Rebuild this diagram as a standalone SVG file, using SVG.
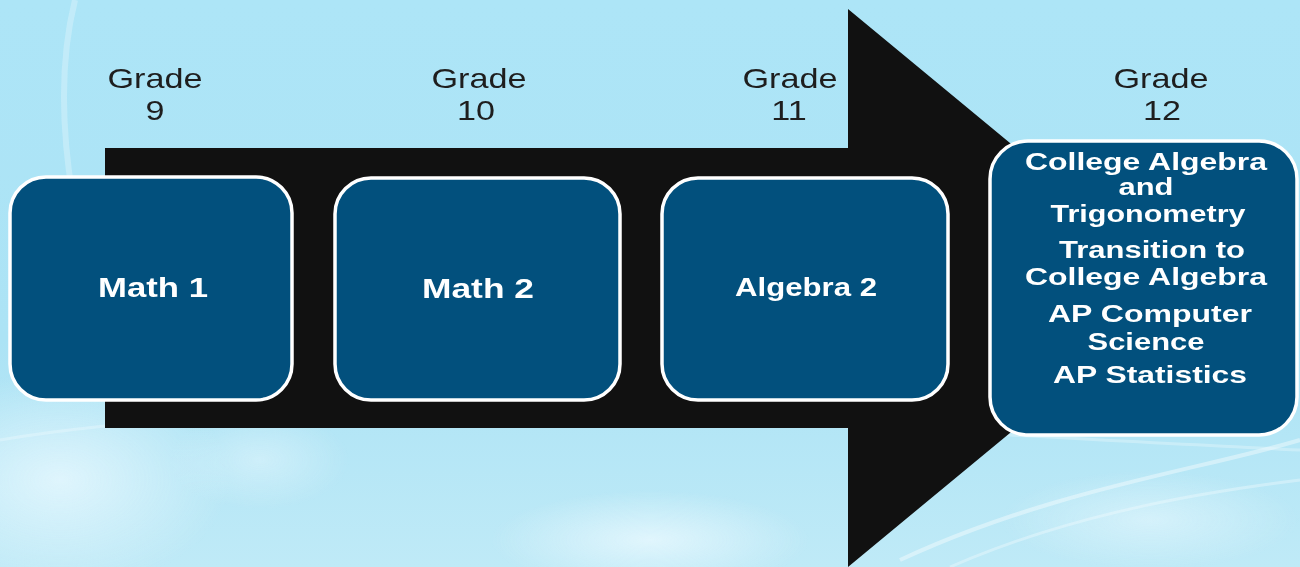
<svg xmlns="http://www.w3.org/2000/svg" width="1300" height="567" viewBox="0 0 1300 567">
<defs>
<linearGradient id="bg" x1="0" y1="0" x2="0" y2="1">
<stop offset="0" stop-color="#ade5f7"/>
<stop offset="0.6" stop-color="#ace3f5"/>
<stop offset="1" stop-color="#bfeaf7"/>
</linearGradient>
<radialGradient id="glow" cx="0.5" cy="0.5" r="0.5">
<stop offset="0" stop-color="#eefaff" stop-opacity="0.9"/>
<stop offset="1" stop-color="#eefaff" stop-opacity="0"/>
</radialGradient>
<style>
.grade{font-family:"Liberation Sans",Arial,sans-serif;font-size:28px;fill:#1e1e1e;text-anchor:middle}
.box{fill:#02507d;stroke:#ffffff;stroke-width:3.5}
.lbl{font-family:"Liberation Sans",Arial,sans-serif;font-weight:bold;font-size:28px;fill:#ffffff;text-anchor:middle}
.lbl2{font-family:"Liberation Sans",Arial,sans-serif;font-weight:bold;font-size:26px;fill:#ffffff;text-anchor:middle}
.lbl3{font-family:"Liberation Sans",Arial,sans-serif;font-weight:bold;font-size:24px;fill:#ffffff;text-anchor:middle}
</style>
</defs>
<rect width="1300" height="567" fill="url(#bg)"/>
<g id="background-deco" opacity="0.8">
<ellipse cx="60" cy="480" rx="170" ry="110" fill="url(#glow)"/>
<ellipse cx="650" cy="540" rx="160" ry="50" fill="url(#glow)"/>
<ellipse cx="260" cy="460" rx="90" ry="50" fill="url(#glow)" opacity="0.6"/>
<ellipse cx="1150" cy="520" rx="150" ry="50" fill="url(#glow)" opacity="0.7"/>
<path d="M75 0 C55 80 60 200 110 330" fill="none" stroke="#d8f3fc" stroke-width="6" opacity="0.6"/>
<path d="M0 440 C300 390 700 420 1300 450" fill="none" stroke="#ffffff" stroke-width="3" opacity="0.35"/>
<path d="M900 560 C1050 490 1200 470 1300 440" fill="none" stroke="#ffffff" stroke-width="4" opacity="0.5"/>
<path d="M950 567 C1080 510 1220 490 1300 480" fill="none" stroke="#ffffff" stroke-width="3" opacity="0.4"/>
</g>
<g id="arrow">
<polygon points="105,148 848,148 848,9 1185,288 848,567 848,428 105,428" fill="#111111"/>
</g>
<g id="labels">
<text class="grade" x="155" y="88" textLength="95" lengthAdjust="spacingAndGlyphs">Grade</text>
<text class="grade" transform="translate(155,120) scale(1.22,1)">9</text>
<text class="grade" x="479" y="88" textLength="95" lengthAdjust="spacingAndGlyphs">Grade</text>
<text class="grade" transform="translate(476,120) scale(1.22,1)">10</text>
<text class="grade" x="790" y="88" textLength="95" lengthAdjust="spacingAndGlyphs">Grade</text>
<text class="grade" transform="translate(789,120) scale(1.22,1)">11</text>
<text class="grade" x="1161" y="88" textLength="95" lengthAdjust="spacingAndGlyphs">Grade</text>
<text class="grade" transform="translate(1162,120) scale(1.22,1)">12</text>
</g>
<g id="connectors"/>
<g id="node-math1">
<rect class="box" x="10" y="177" width="282" height="223" rx="36"/>
<text class="lbl" x="153" y="297" textLength="110" lengthAdjust="spacingAndGlyphs">Math 1</text>
</g>
<g id="node-math2">
<rect class="box" x="335" y="178" width="285" height="222" rx="36"/>
<text class="lbl" x="478" y="298" textLength="112" lengthAdjust="spacingAndGlyphs">Math 2</text>
</g>
<g id="node-algebra2">
<rect class="box" x="662" y="178" width="286" height="222" rx="36"/>
<text class="lbl2" x="806" y="296" textLength="142" lengthAdjust="spacingAndGlyphs">Algebra 2</text>
</g>
<g id="node-grade12">
<rect class="box" x="990" y="141" width="307" height="294" rx="38"/>
<text class="lbl3" x="1146" y="170" textLength="242" lengthAdjust="spacingAndGlyphs">College Algebra</text>
<text class="lbl3" x="1146" y="195" textLength="55" lengthAdjust="spacingAndGlyphs">and</text>
<text class="lbl3" x="1148" y="222" textLength="195" lengthAdjust="spacingAndGlyphs">Trigonometry</text>
<text class="lbl3" x="1152" y="258" textLength="186" lengthAdjust="spacingAndGlyphs">Transition to</text>
<text class="lbl3" x="1146" y="285" textLength="242" lengthAdjust="spacingAndGlyphs">College Algebra</text>
<text class="lbl3" x="1150" y="322" textLength="204" lengthAdjust="spacingAndGlyphs">AP Computer</text>
<text class="lbl3" x="1146" y="350" textLength="117" lengthAdjust="spacingAndGlyphs">Science</text>
<text class="lbl3" x="1150" y="383" textLength="194" lengthAdjust="spacingAndGlyphs">AP Statistics</text>
</g>
</svg>
